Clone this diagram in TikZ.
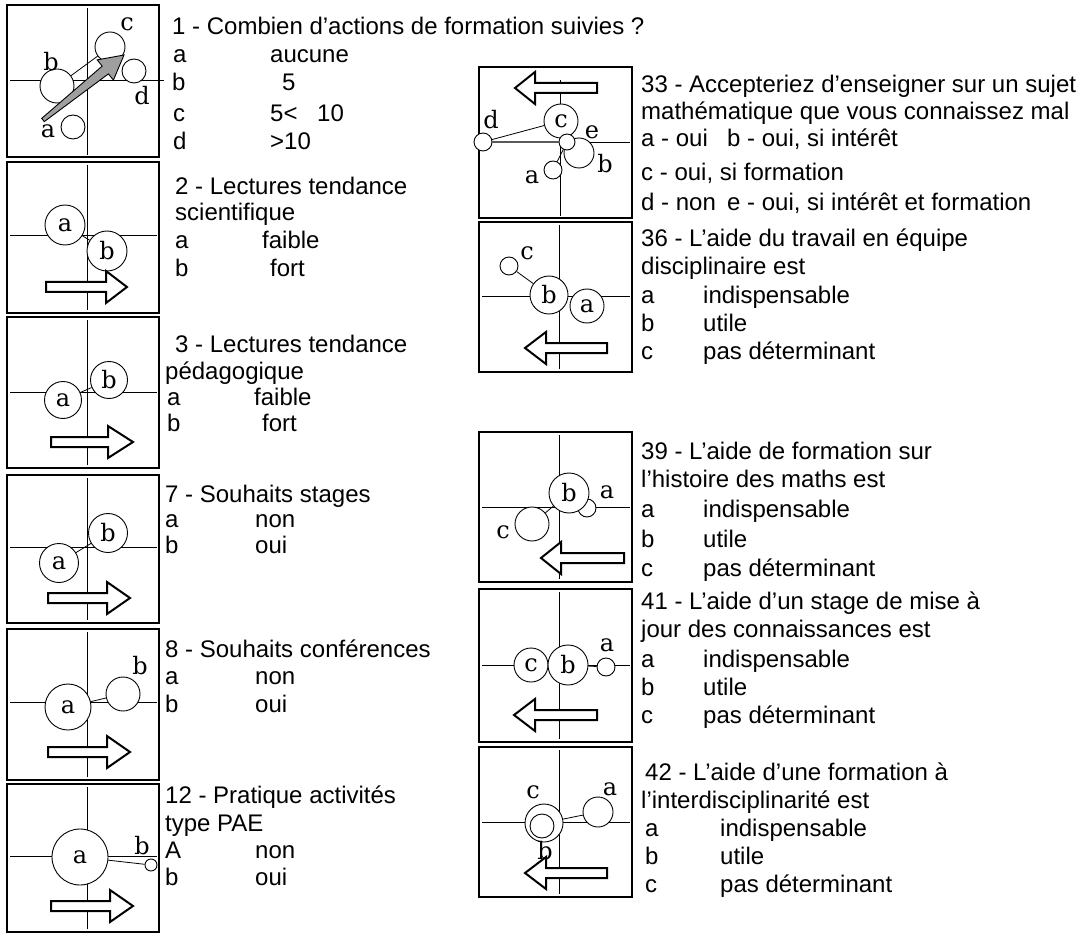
\documentclass[tikz,border=0pt]{standalone}
\usepackage{fontspec}
\setmainfont{Liberation Sans}
\newfontfamily\lblserif{DejaVu Serif}
\newcommand\lblfont{\lblserif\fontsize{24}{24}\selectfont}
\newcommand\txtfont{\fontsize{24}{29}\selectfont}
\newcommand\rarr[5]{\draw[blockarrow] (#1,#4-5) -- (#2,#4-5) -- (#2,#4-16) -- (#3,#4) -- (#2,#4+16) -- (#2,#4+5) -- (#1,#4+5) -- cycle;}
\tikzset{
 box/.style={draw, line width=1.3pt},
 axis/.style={line width=0.9pt},
 dot/.style={circle, draw, fill=white, line width=0.9pt, inner sep=0pt, minimum size=#1, font=\lblfont},
 lab/.style={inner sep=0pt, font=\lblfont},
 txt/.style={anchor=base west, inner sep=0pt, font=\txtfont},
 link/.style={line width=0.8pt},
 blockarrow/.style={draw, line width=2pt, fill=white, line join=miter},
}
\begin{document}
\begin{tikzpicture}[x=1pt,y=-1pt]
\useasboundingbox (0,0) rectangle (1084,933);
\fill[white] (0,0) rectangle (1084,933);

% ---------- left column boxes ----------
\draw[box] (7,5) rectangle (159,157);
\draw[axis] (87,8) -- (87,155) (10,80) -- (164,80);
\draw[box] (7,162) rectangle (159,313);
\draw[axis] (87,165) -- (87,310) (10,235) -- (157,235);
\draw[box] (7,317) rectangle (159,468);
\draw[axis] (87,320) -- (87,465) (10,392) -- (157,392);
\draw[box] (7,475) rectangle (159,623);
\draw[axis] (87,478) -- (87,620) (10,547) -- (157,547);
\draw[box] (7,629) rectangle (159,780);
\draw[axis] (87,632) -- (87,777) (10,702) -- (157,702);
\draw[box] (7,784) rectangle (159,932);
\draw[axis] (87,787) -- (87,929) (10,856) -- (157,856);

% ---------- right column boxes ----------
\draw[box] (479,67) rectangle (632,218);
\draw[axis] (560,80) -- (560,216) (482,142) -- (630,142);
\draw[box] (479,222) rectangle (632,372);
\draw[axis] (559,225) -- (559,369) (482,296) -- (630,296);
\draw[box] (479,432) rectangle (632,582);
\draw[axis] (559,435) -- (559,579) (482,507) -- (630,507);
\draw[box] (479,589) rectangle (632,742);
\draw[axis] (559,592) -- (559,739) (482,665) -- (630,665);
\draw[box] (479,747) rectangle (632,897);
\draw[axis] (559,750) -- (559,894) (482,822) -- (630,822);

% ---------- panel 1 ----------
\node[dot=30] (p1c) at (110,47) {};
\node[dot=34] (p1b) at (57,86) {};
\node[dot=24] (p1d) at (134,71) {};
\node[dot=24] (p1a) at (73,127) {};
\draw[link] (p1b) -- (p1c);
\draw[fill=gray!75, line width=0.9pt, line join=miter] (44.3,121.6) -- (108.4,73.9) -- (113.4,80.1) -- (124,55) -- (97.2,59.9) -- (102.2,66.1) -- (41.7,118.4) -- cycle;
\node[lab] (p1lc) at (127,24) {c};
\node[lab] (p1lb) at (51,62) {b};
\node[lab] (p1ld) at (142,96) {d};
\node[lab] (p1la) at (48,131) {a};

% ---------- panel 2 ----------
\node[dot=40] (p2a) at (65,225) {a};
\node[dot=40] (p2b) at (107,251) {b};
\draw[link] (p2a) -- (p2b);
\rarr{46}{106}{127}{287}

% ---------- panel 3 ----------
\node[dot=37] (p3a) at (63,400) {a};
\node[dot=37] (p3b) at (109,380) {b};
\draw[link] (p3a) -- (p3b);
\rarr{51}{108}{133}{442}

% ---------- panel 4 ----------
\node[dot=39] (p4a) at (59,563) {a};
\node[dot=39] (p4b) at (108,533) {b};
\draw[link] (p4a) -- (p4b);
\rarr{48}{107}{130}{598}

% ---------- panel 5 ----------
\node[dot=46] (p5a) at (68,707) {a};
\node[dot=34] (p5b) at (123,694) {};
\draw[link] (p5a) -- (p5b);
\node[lab] (p5lb) at (140,666) {b};
\rarr{48}{107}{130}{752}

% ---------- panel 6 ----------
\node[dot=56] (p6a) at (80,857) {a};
\node[dot=12] (p6b) at (151,865) {};
\draw[link] (p6a) -- (p6b);
\node[lab] (p6lb) at (142,846) {b};
\rarr{51}{110}{133}{906}

% ---------- panel R1 ----------
\node[dot=34] (q1c) at (561,121) {c};
\node[dot=30] (q1b) at (579,153) {};
\node[dot=16] (q1e) at (567,142) {};
\node[dot=18] (q1d) at (483,142) {};
\node[dot=18] (q1a) at (553,170) {};
\draw[link] (q1d) -- (q1c);
\draw[line width=2.6pt, gray!70!black] (q1d) -- (q1e);
\draw[link] (q1a) -- (q1e);
\node[lab] (q1ld) at (491,120) {d};
\node[lab] (q1le) at (592,132) {e};
\node[lab] (q1lb) at (605,164) {b};
\node[lab] (q1la) at (532,177) {a};
\rarr{597}{535}{515}{88}

% ---------- panel R2 ----------
\node[dot=18] (q2c) at (509,266) {};
\node[dot=38] (q2b) at (549,295) {b};
\node[dot=34] (q2a) at (587,306) {a};
\draw[link] (q2c) -- (q2b);
\node[lab] (q2lc) at (527,253) {c};
\rarr{607}{546}{525}{348}

% ---------- panel R3 ----------
\node[dot=18] (q3a) at (587,508) {};
\node[dot=40] (q3b) at (569,493) {b};
\node[dot=34] (q3c) at (532,524) {};
\draw[link] (q3c) -- (q3b);
\node[lab] (q3la) at (607,492) {a};
\node[lab] (q3lc) at (503,532) {c};
\rarr{624}{561}{541}{558}

% ---------- panel R4 ----------
\node[dot=34] (q4c) at (531,665) {c};
\node[dot=40] (q4b) at (568,665) {b};
\node[dot=18] (q4a) at (606,667) {};
\draw[link] (q4b) -- (q4a);
\node[lab] (q4la) at (607,645) {a};
\rarr{597}{535}{514}{715}

% ---------- panel R5 ----------
\node[dot=38] (q5c) at (544,823) {};
\node[dot=24] (q5b) at (542,826) {};
\node[dot=30] (q5a) at (598,812) {};
\draw[link] (q5c) -- (q5a);
\node[lab] (q5lc) at (533,792) {c};
\node[lab] (q5lb) at (545,851) {b};
\node[lab] (q5la) at (610,789) {a};
\rarr{607}{546}{525}{873}

% ---------- texts left ----------
\node[txt] (t1) at (172,35) {1 - Combien d’actions de formation suivies ?};
\node[txt] (t1a) at (173,63) {a};
\node[txt] (t1a2) at (270,63) {aucune};
\node[txt] (t1b) at (172,91) {b};
\node[txt] (t1b2) at (282,91) {5};
\node[txt] (t1c) at (173,122) {c};
\node[txt] (t1c2) at (270,122) {5<};
\node[txt] (t1c3) at (317,122) {10};
\node[txt] (t1d) at (173,150) {d};
\node[txt] (t1d2) at (270,150) {>10};

\node[txt] (t2) at (175,195) {2 - Lectures tendance};
\node[txt] (t2b) at (175,221) {scientifique};
\node[txt] (t2c) at (175,249) {a};
\node[txt] (t2c2) at (262,249) {faible};
\node[txt] (t2d) at (175,277) {b};
\node[txt] (t2d2) at (270,277) {fort};

\node[txt] (t3) at (175,352) {3 - Lectures tendance};
\node[txt] (t3b) at (165,379) {pédagogique};
\node[txt] (t3c) at (167,405) {a};
\node[txt] (t3c2) at (254,405) {faible};
\node[txt] (t3d) at (167,431) {b};
\node[txt] (t3d2) at (262,431) {fort};

\node[txt] (t4) at (165,502) {7 - Souhaits stages};
\node[txt] (t4a) at (165,527) {a};
\node[txt] (t4a2) at (255,527) {non};
\node[txt] (t4b) at (165,553) {b};
\node[txt] (t4b2) at (255,553) {oui};

\node[txt] (t5) at (165,657) {8 - Souhaits conférences};
\node[txt] (t5a) at (165,684) {a};
\node[txt] (t5a2) at (255,684) {non};
\node[txt] (t5b) at (165,712) {b};
\node[txt] (t5b2) at (255,712) {oui};

\node[txt] (t6) at (165,803) {12 - Pratique activités};
\node[txt] (t6b) at (165,831) {type PAE};
\node[txt] (t6c) at (165,858) {A};
\node[txt] (t6c2) at (255,858) {non};
\node[txt] (t6d) at (165,885) {b};
\node[txt] (t6d2) at (255,885) {oui};

% ---------- texts right ----------
\node[txt] (u1) at (641,93) {33 - Accepteriez d’enseigner sur un sujet};
\node[txt] (u1b) at (641,120) {mathématique que vous connaissez mal};
\node[txt] (u1c) at (641,147) {a - oui};
\node[txt] (u1c2) at (727,147) {b - oui, si intérêt};
\node[txt] (u1d) at (641,181) {c - oui, si formation};
\node[txt] (u1e) at (641,211) {d - non};
\node[txt] (u1e2) at (727,211) {e - oui, si intérêt et formation};

\node[txt] (u2) at (641,247) {36 - L’aide du travail en équipe};
\node[txt] (u2b) at (641,275) {disciplinaire est};
\node[txt] (u2c) at (641,304) {a};
\node[txt] (u2c2) at (703,304) {indispensable};
\node[txt] (u2d) at (641,331) {b};
\node[txt] (u2d2) at (703,331) {utile};
\node[txt] (u2e) at (641,359) {c};
\node[txt] (u2e2) at (703,359) {pas déterminant};

\node[txt] (u3) at (641,459) {39 - L’aide de formation sur};
\node[txt] (u3b) at (641,487) {l’histoire des maths est};
\node[txt] (u3c) at (641,517) {a};
\node[txt] (u3c2) at (703,517) {indispensable};
\node[txt] (u3d) at (641,547) {b};
\node[txt] (u3d2) at (703,547) {utile};
\node[txt] (u3e) at (641,576) {c};
\node[txt] (u3e2) at (703,576) {pas déterminant};

\node[txt] (u4) at (641,609) {41 - L’aide d’un stage de mise à};
\node[txt] (u4b) at (641,637) {jour des connaissances est};
\node[txt] (u4c) at (641,667) {a};
\node[txt] (u4c2) at (703,667) {indispensable};
\node[txt] (u4d) at (641,695) {b};
\node[txt] (u4d2) at (703,695) {utile};
\node[txt] (u4e) at (641,723) {c};
\node[txt] (u4e2) at (703,723) {pas déterminant};

\node[txt] (u5) at (645,780) {42 - L’aide d’une formation à};
\node[txt] (u5b) at (641,808) {l’interdisciplinarité est};
\node[txt] (u5c) at (645,836) {a};
\node[txt] (u5c2) at (720,836) {indispensable};
\node[txt] (u5d) at (645,864) {b};
\node[txt] (u5d2) at (720,864) {utile};
\node[txt] (u5e) at (645,892) {c};
\node[txt] (u5e2) at (720,892) {pas déterminant};
\end{tikzpicture}
\end{document}
